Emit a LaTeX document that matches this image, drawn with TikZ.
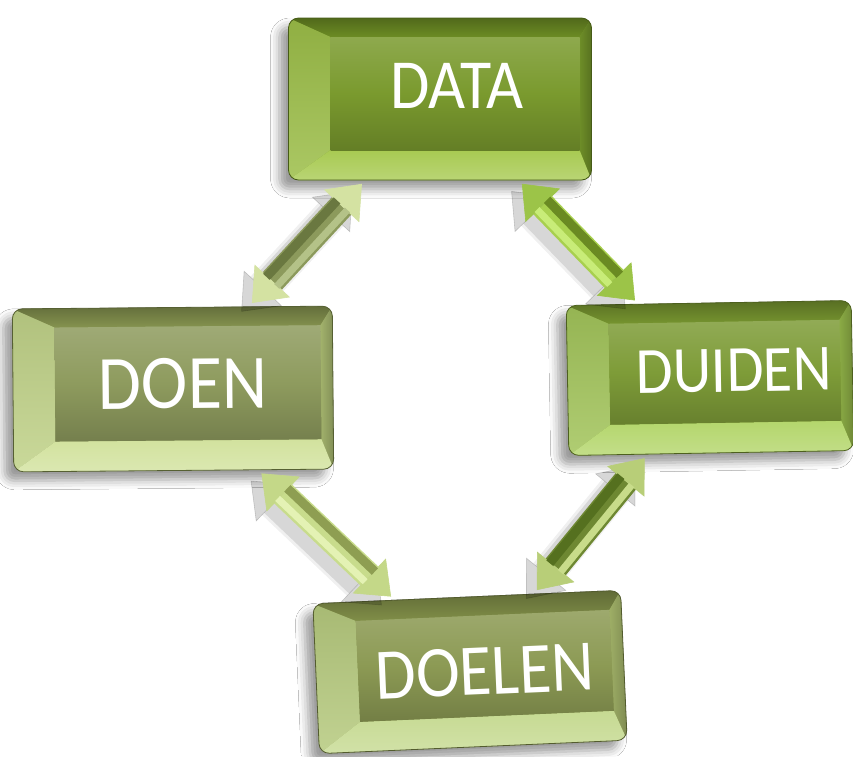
\documentclass[tikz,border=0pt]{standalone}
\usepackage{fontspec}
\setmainfont{Carlito}
\usetikzlibrary{arrows.meta,shadows.blur}

\definecolor{dataFace}{HTML}{7A9A2E}\definecolor{dataTop}{HTML}{6C8C24}\definecolor{dataLeft}{HTML}{9CBE48}\definecolor{dataRight}{HTML}{6E8E28}\definecolor{dataBot}{HTML}{A8CA52}
\definecolor{doenFace}{HTML}{8E9B5E}\definecolor{doenTop}{HTML}{85934F}\definecolor{doenLeft}{HTML}{C0D288}\definecolor{doenRight}{HTML}{A2B26C}\definecolor{doenBot}{HTML}{D2E29E}
\definecolor{duidFace}{HTML}{7E9C38}\definecolor{duidTop}{HTML}{76942F}\definecolor{duidLeft}{HTML}{A2C45A}\definecolor{duidRight}{HTML}{8AAA44}\definecolor{duidBot}{HTML}{B4D66C}
\definecolor{doelFace}{HTML}{8C9A54}\definecolor{doelTop}{HTML}{808E48}\definecolor{doelLeft}{HTML}{B6CA7E}\definecolor{doelRight}{HTML}{9EAE66}\definecolor{doelBot}{HTML}{C6DA92}

\definecolor{aOneBase}{HTML}{8C9A5C}\definecolor{aOneDark}{HTML}{6A7840}\definecolor{aOneLight}{HTML}{B4C288}\definecolor{aOneTip}{HTML}{D4E2A2}
\definecolor{aTwoBase}{HTML}{A8D04E}\definecolor{aTwoDark}{HTML}{6A8A22}\definecolor{aTwoLight}{HTML}{C8EC78}\definecolor{aTwoTip}{HTML}{9CC448}
\definecolor{aThrBase}{HTML}{C8DC8C}\definecolor{aThrDark}{HTML}{8E9E52}\definecolor{aThrLight}{HTML}{E4F2B4}\definecolor{aThrTip}{HTML}{C4D888}
\definecolor{aFouBase}{HTML}{6E8832}\definecolor{aFouDark}{HTML}{55701F}\definecolor{aFouLight}{HTML}{C8DC8A}\definecolor{aFouTip}{HTML}{B8CE78}

% #1 colour prefix, #2 cx, #3 cy (pixels), #4 width, #5 height, #6 rotation
\newcommand\bevelbox[6]{%
 \begin{scope}[shift={(#2,-#3)},rotate=#6]
  \pgfmathsetmacro\ha{#4/2}\pgfmathsetmacro\hb{#5/2}
  \fill[rounded corners=10pt, fill=#1Face,
    blur shadow={shadow xshift=-9pt,shadow yshift=-9pt,shadow blur radius=9pt,shadow opacity=40}]
    (-\ha,-\hb) rectangle (\ha,\hb);
  \begin{scope}
   \clip[rounded corners=10pt] (-\ha,-\hb) rectangle (\ha,\hb);
   \shade[top color=#1Top!75!black, bottom color=#1Top]
     (-\ha,\hb) -- (\ha,\hb) -- ({\ha-12},{\hb-19}) -- ({-\ha+42},{\hb-19}) -- cycle;
   \shade[top color=#1Left!92!black, bottom color=#1Left!85!white]
     (-\ha,\hb) -- ({-\ha+42},{\hb-19}) -- ({-\ha+42},{-\hb+30}) -- (-\ha,-\hb) -- cycle;
   \shade[left color=#1Right, right color=#1Right!80!black]
     (\ha,\hb) -- (\ha,-\hb) -- ({\ha-12},{-\hb+30}) -- ({\ha-12},{\hb-19}) -- cycle;
   \shade[top color=#1Bot, bottom color=#1Bot!80!white]
     (-\ha,-\hb) -- (\ha,-\hb) -- ({\ha-12},{-\hb+30}) -- ({-\ha+42},{-\hb+30}) -- cycle;
   \shade[top color=#1Face!85!white, bottom color=#1Face!82!black, middle color=#1Face]
     ({-\ha+42},{-\hb+30}) rectangle ({\ha-12},{\hb-19});
  \end{scope}
  \draw[rounded corners=10pt, #1Top!65!black, line width=0.8pt] (-\ha,-\hb) rectangle (\ha,\hb);
 \end{scope}}

% text shifted right by #1/2 and up by #2/2 inside its node, stretched a little in height
\newcommand\facetext[3]{\hspace*{#1}\raisebox{#2}{\scalebox{1}[1.1]{#3}}}

\tikzset{
  boxtext/.style={rectangle, inner sep=0pt, text=white, font=\fontsize{#1pt}{#1pt}\selectfont},
  arrbase/.style 2 args={draw=#1, line width=26pt,
    {Triangle[length=30pt,width=48pt,color=#2,line width=0.6pt]}-{Triangle[length=30pt,width=48pt,color=#2,line width=0.6pt]},
    shorten <=5pt, shorten >=5pt},
  arrshadow/.style={black, {Triangle[length=32pt,width=52pt,line width=0.6pt]}-{Triangle[length=32pt,width=52pt,line width=0.6pt]},
    shorten <=4pt, shorten >=4pt, transform canvas={shift={(-10pt,-8pt)}}},
  stripe/.style={shorten <=34pt, shorten >=34pt}
}

% #1 from, #2 to, #3 colour prefix, #4 #5 unit vector towards the dark side
\newcommand\fatarrow[5]{%
  \draw[arrshadow, line width=34pt, opacity=0.06] (#1) -- (#2);
  \draw[arrshadow, line width=28pt, opacity=0.10] (#1) -- (#2);
  \draw[arrbase={#3Base}{#3Tip}] (#1) -- (#2);
  \draw[stripe, #3Dark, line width=9pt, transform canvas={shift={({7pt*(#4)},{7pt*(#5)})}}] (#1) -- (#2);
  \draw[stripe, #3Light, line width=7pt, transform canvas={shift={({-7pt*(#4)},{-7pt*(#5)})}}] (#1) -- (#2);
}

\begin{document}
\begin{tikzpicture}[x=1pt,y=1pt]
\useasboundingbox (0,0) rectangle (853,-756);
\fill[white] (0,0) rectangle (853,-756);

\bevelbox{data}{440}{99}{303}{162}{0}
\bevelbox{doen}{173}{389}{320}{163}{0.5}
\bevelbox{duid}{710}{378}{285}{150}{1}
\bevelbox{doel}{470}{672}{308}{150}{2.5}

\node[boxtext=64, minimum width=303pt, minimum height=162pt] (data) at (440,-99) {\facetext{34pt}{27pt}{DATA}};
\node[boxtext=70, minimum width=320pt, minimum height=163pt, rotate=0.5] (doen) at (173,-389) {\facetext{20pt}{11pt}{DOEN}};
\node[boxtext=60, minimum width=285pt, minimum height=150pt, rotate=1] (duiden) at (710,-378) {\facetext{48pt}{14pt}{DUIDEN}};
\node[boxtext=66, minimum width=308pt, minimum height=150pt, rotate=2.5] (doelen) at (470,-672) {\facetext{30pt}{0pt}{DOELEN}};

\fatarrow{data}{doen}{aOne}{-0.735}{0.679}
\fatarrow{data}{duiden}{aTwo}{0.716}{0.698}
\fatarrow{doen}{doelen}{aThr}{0.693}{0.722}
\fatarrow{duiden}{doelen}{aFou}{-0.769}{0.640}
\end{tikzpicture}
\end{document}
